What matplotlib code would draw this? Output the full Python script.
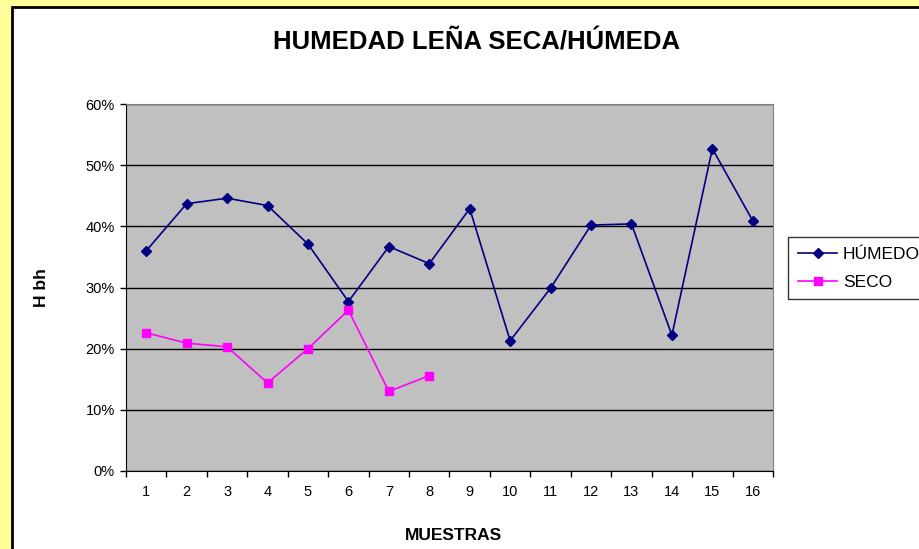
import matplotlib
matplotlib.use("Agg")
import matplotlib.pyplot as plt
from matplotlib.patches import Rectangle
from matplotlib.ticker import PercentFormatter

# Datos
muestras = list(range(1, 17))
humedo = [0.360, 0.437, 0.446, 0.434, 0.371, 0.277, 0.367, 0.339,
          0.429, 0.213, 0.299, 0.402, 0.404, 0.222, 0.527, 0.409]
muestras_seco = list(range(1, 9))
seco = [0.226, 0.209, 0.203, 0.144, 0.200, 0.263, 0.130, 0.156]

plt.rcParams['font.family'] = ['Liberation Sans', 'DejaVu Sans']

fig = plt.figure(figsize=(9.19, 5.49), dpi=100)
fig.patch.set_facecolor('#FFFF99')

# marco blanco del grafico
marco = Rectangle((12 / 919, -0.05), 1.0, 0.05 + 542 / 549, transform=fig.transFigure,
                  facecolor='white', edgecolor='black', linewidth=2, zorder=-5)
fig.patches.append(marco)

ax = fig.add_axes([126 / 919, 78 / 549, 647 / 919, 367 / 549])
ax.set_facecolor('#C0C0C0')

ax.plot(muestras, humedo, color='#000080', marker='D', markersize=5.5,
        linewidth=1.2, label='HÚMEDO', zorder=3)
ax.plot(muestras_seco, seco, color='#FF00FF', marker='s', markersize=6,
        linewidth=1.2, label='SECO', zorder=3)

ax.set_xlim(0.5, 16.5)
ax.set_ylim(0, 0.6)
ax.set_yticks([0, 0.1, 0.2, 0.3, 0.4, 0.5, 0.6])
ax.yaxis.set_major_formatter(PercentFormatter(1.0, decimals=0))
ax.tick_params(axis='y', direction='out', length=4, width=1, pad=4, labelsize=10.5)

# ticks en los limites de cada categoria, etiquetas en el centro
ax.set_xticks([i + 0.5 for i in range(0, 17)])
ax.set_xticklabels([])
ax.tick_params(axis='x', which='major', direction='out', length=4, width=1)
ax.set_xticks(muestras, minor=True)
ax.set_xticklabels([str(m) for m in muestras], minor=True)
ax.tick_params(axis='x', which='minor', length=0, pad=10, labelsize=10.5)

ax.yaxis.grid(True, color='black', linewidth=1)
ax.set_axisbelow(True)
for lado in ['top', 'right']:
    ax.spines[lado].set_color('#808080')
for lado in ['left', 'bottom']:
    ax.spines[lado].set_color('black')

fig.text(477 / 919, 1 - 42 / 549, 'HUMEDAD LEÑA SECA/HÚMEDA', ha='center', va='center',
         fontsize=18.5, fontweight='bold')
fig.text(453 / 919, 1 - 536 / 549, 'MUESTRAS', ha='center', va='center',
         fontsize=12.5, fontweight='bold')
fig.text(42 / 919, 1 - 288 / 549, 'H bh', ha='center', va='center', rotation=90,
         fontsize=12.5, fontweight='bold')

leg = ax.legend(loc='upper left', bbox_to_anchor=(788 / 919, 1 - 237 / 549),
                bbox_transform=fig.transFigure, fontsize=12.5, frameon=True,
                fancybox=False, borderaxespad=0, handlelength=2.3,
                borderpad=0.55, labelspacing=0.75, handletextpad=0.3)
leg.get_frame().set_edgecolor('black')
leg.get_frame().set_linewidth(1)

fig.savefig('out.png', dpi=100, facecolor=fig.get_facecolor())
